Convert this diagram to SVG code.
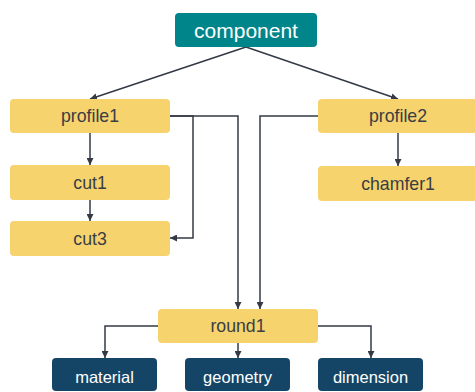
<svg xmlns="http://www.w3.org/2000/svg" width="475" height="392" viewBox="0 0 475 392">
<defs>
<style>
.y{fill:#F6D36D}
.t{fill:#00858A}
.d{fill:#154566}
.ty{font-family:"Liberation Sans",Arial,sans-serif;font-size:17.7px;fill:#3a3d44;text-anchor:middle}
.tw{font-family:"Liberation Sans",Arial,sans-serif;fill:#ffffff;text-anchor:middle}
.c{fill:none;stroke:#343a45;stroke-width:1.5;marker-end:url(#a)}
</style>
<marker id="a" viewBox="0 0 10 10" refX="10" refY="5" markerWidth="7" markerHeight="7" markerUnits="userSpaceOnUse" orient="auto">
<path d="M0,0 L10,5 L0,10 z" fill="#343a45"/>
</marker>
</defs>
<rect width="475" height="392" fill="#ffffff"/>
<g id="connectors">
<path class="c" d="M246,47 L90,99"/>
<path class="c" d="M246,47 L398,99"/>
<path class="c" d="M90,133 L90,165"/>
<path class="c" d="M90,200 L90,221"/>
<path class="c" d="M170,116 L193,116 L193,238 L170,238"/>
<path class="c" d="M170,116 L238,116 L238,309"/>
<path class="c" d="M318,116 L260,116 L260,309"/>
<path class="c" d="M398,133 L398,166"/>
<path class="c" d="M158,326 L105,326 L105,358"/>
<path class="c" d="M238,343 L238,358"/>
<path class="c" d="M318,326 L371,326 L371,358"/>
</g>
<g id="component"><rect class="t" x="175" y="13" width="142" height="34" rx="4"/><text class="tw" x="246" y="37.5" font-size="21">component</text></g>
<g id="profile1"><rect class="y" x="10" y="99" width="160" height="34" rx="4"/><text class="ty" x="90" y="122.3">profile1</text></g>
<g id="profile2"><rect class="y" x="318" y="99" width="160" height="34" rx="4"/><text class="ty" x="398" y="122.3">profile2</text></g>
<g id="cut1"><rect class="y" x="10" y="165" width="160" height="35" rx="4"/><text class="ty" x="90" y="188.8">cut1</text></g>
<g id="cut3"><rect class="y" x="10" y="221" width="160" height="35" rx="4"/><text class="ty" x="90" y="244.8">cut3</text></g>
<g id="chamfer1"><rect class="y" x="318" y="166" width="160" height="35" rx="4"/><text class="ty" x="398" y="189.8">chamfer1</text></g>
<g id="round1"><rect class="y" x="158" y="309" width="160" height="34" rx="4"/><text class="ty" x="238" y="332.3">round1</text></g>
<g id="material"><rect class="d" x="52" y="358" width="105" height="33" rx="4"/><text class="tw" x="104.5" y="382.5" font-size="16.5">material</text></g>
<g id="geometry"><rect class="d" x="185" y="358" width="105" height="33" rx="4"/><text class="tw" x="237.5" y="382.5" font-size="16.5">geometry</text></g>
<g id="dimension"><rect class="d" x="318" y="358" width="105" height="33" rx="4"/><text class="tw" x="370.5" y="382.5" font-size="16.5">dimension</text></g>
</svg>
